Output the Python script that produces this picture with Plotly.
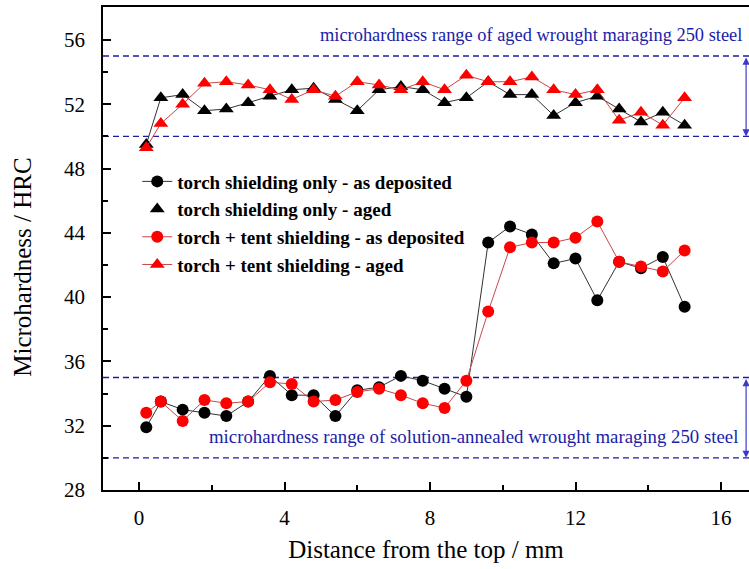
import plotly.graph_objects as go

# Measurement positions (mm from the top of the deposit)
distance = [0.2, 0.6, 1.2, 1.8, 2.4, 3.0, 3.6, 4.2, 4.8, 5.4, 6.0, 6.6, 7.2,
            7.8, 8.4, 9.0, 9.6, 10.2, 10.8, 11.4, 12.0, 12.6, 13.2, 13.8, 14.4, 15.0]

# Microhardness (HRC)
torch_as_dep = [31.9, 33.5, 33.0, 32.8, 32.6, 33.5, 35.1, 33.9, 33.9, 32.6, 34.2, 34.4, 35.1,
                34.8, 34.3, 33.8, 43.4, 44.4, 43.9, 42.1, 42.4, 39.8, 42.2, 41.8, 42.5, 39.4]
torch_aged = [49.5, 52.4, 52.6, 51.6, 51.7, 52.1, 52.5, 52.9, 53.0, 52.3, 51.6, 52.9, 53.1,
              52.9, 52.1, 52.4, 53.4, 52.6, 52.6, 51.3, 52.1, 52.5, 51.7, 50.9, 51.5, 50.7]
tent_as_dep = [32.8, 33.5, 32.3, 33.6, 33.4, 33.5, 34.7, 34.6, 33.5, 33.6, 34.1, 34.3, 33.9,
               33.4, 33.1, 34.8, 39.1, 43.1, 43.4, 43.4, 43.7, 44.7, 42.2, 41.9, 41.6, 42.9]
tent_aged = [49.3, 50.8, 52.0, 53.3, 53.4, 53.2, 52.9, 52.3, 52.9, 52.5, 53.4, 53.2, 52.9,
             53.4, 52.9, 53.8, 53.4, 53.4, 53.7, 52.9, 52.6, 52.9, 51.0, 51.5, 50.7, 52.4]

# Reference ranges of wrought maraging 250 steel (HRC)
aged_range = [50, 55]
annealed_range = [30, 35]

labels = ["torch shielding only - as deposited", "torch shielding only - aged",
          "torch + tent shielding - as deposited", "torch + tent shielding - aged"]

x_ticks = [0, 4, 8, 12, 16]
y_ticks = [28, 32, 36, 40, 44, 48, 52, 56]

SERIF = "Liberation Serif, Times New Roman, serif"
BLUE = "#1c1ca8"
RED = "#ff0000"
RED_LINE = "#c84848"

fig = go.Figure()

fig.add_trace(go.Scatter(
    x=distance, y=torch_as_dep, mode="lines+markers", name=labels[0],
    line=dict(color="#333333", width=1),
    marker=dict(symbol="circle", size=12, color="black")))
fig.add_trace(go.Scatter(
    x=distance, y=torch_aged, mode="lines+markers", name=labels[1], showlegend=False,
    line=dict(color="#333333", width=1),
    marker=dict(symbol="triangle-up", size=13, color="black")))
# legend entry for the aged torch-only series is shown as a bare marker
fig.add_trace(go.Scatter(
    x=[None], y=[None], mode="markers", name=labels[1],
    marker=dict(symbol="triangle-up", size=13, color="black")))
fig.add_trace(go.Scatter(
    x=distance, y=tent_as_dep, mode="lines+markers", name=labels[2],
    line=dict(color=RED_LINE, width=1),
    marker=dict(symbol="circle", size=12, color=RED)))
fig.add_trace(go.Scatter(
    x=distance, y=tent_aged, mode="lines+markers", name=labels[3],
    line=dict(color=RED_LINE, width=1),
    marker=dict(symbol="triangle-up", size=13, color=RED)))

# dashed bounds of the reference ranges
for level in aged_range + annealed_range:
    fig.add_shape(type="line", xref="paper", x0=0, x1=1, yref="y", y0=level, y1=level,
                  line=dict(color=BLUE, width=1.3, dash="6px,4px"), layer="below")

# double-headed arrows spanning each range at the right edge
for lo, hi in (aged_range, annealed_range):
    fig.add_annotation(x=16.69, y=lo, ax=16.69, ay=hi, xref="x", yref="y",
                       axref="x", ayref="y", text="", showarrow=True,
                       arrowhead=2, startarrowhead=2, arrowside="end+start",
                       arrowsize=1.2, startarrowsize=1.2, arrowwidth=1.2,
                       arrowcolor="#3a3ad0")

fig.add_annotation(x=4.92, y=56.31, xref="x", yref="y", xanchor="left", yanchor="middle",
                   text="microhardness range of aged wrought maraging 250 steel",
                   showarrow=False, font=dict(family=SERIF, size=18.4, color=BLUE))
fig.add_annotation(x=1.88, y=31.3, xref="x", yref="y", xanchor="left", yanchor="middle",
                   text="microhardness range of solution-annealed wrought maraging 250 steel",
                   showarrow=False, font=dict(family=SERIF, size=18.8, color=BLUE))

# vertical axis title
fig.add_annotation(x=-0.124, y=0.462, xref="paper", yref="paper",
                   xanchor="center", yanchor="middle", textangle=-90,
                   text="Microhardness / HRC", showarrow=False,
                   font=dict(family=SERIF, size=25, color="black"))

fig.update_layout(
    width=749, height=569,
    margin=dict(l=103, r=0, t=7, b=79),
    plot_bgcolor="white", paper_bgcolor="white",
    font=dict(family=SERIF, color="black"),
    showlegend=True,
    legend=dict(x=0.053, y=0.678, xanchor="left", yanchor="top",
                bgcolor="rgba(0,0,0,0)", borderwidth=0,
                font=dict(family=SERIF, size=19, color="black", weight="bold"),
                itemsizing="trace", tracegroupgap=0),
)

fig.update_xaxes(
    range=[-0.99, 16.77], showgrid=False, zeroline=False,
    showline=True, linecolor="black", linewidth=1.5, mirror=True,
    tickvals=x_ticks, ticktext=[str(v) for v in x_ticks],
    ticks="inside", ticklen=8, tickwidth=1.5, tickcolor="black",
    minor=dict(dtick=2, tick0=0, ticks="inside", ticklen=5, tickwidth=1.5, tickcolor="black"),
    tickfont=dict(family=SERIF, size=21), ticklabelstandoff=8,
    title=dict(text="Distance from the top / mm", font=dict(family=SERIF, size=25), standoff=12),
)
fig.update_yaxes(
    range=[28, 58.05], showgrid=False, zeroline=False,
    showline=True, linecolor="black", linewidth=1.5,
    tickvals=y_ticks, ticktext=[str(v) for v in y_ticks],
    ticks="inside", ticklen=8, tickwidth=1.5, tickcolor="black",
    minor=dict(dtick=2, tick0=28, ticks="inside", ticklen=5, tickwidth=1.5, tickcolor="black"),
    tickfont=dict(family=SERIF, size=21), ticklabelstandoff=12,
)

fig.write_html("out.html")
